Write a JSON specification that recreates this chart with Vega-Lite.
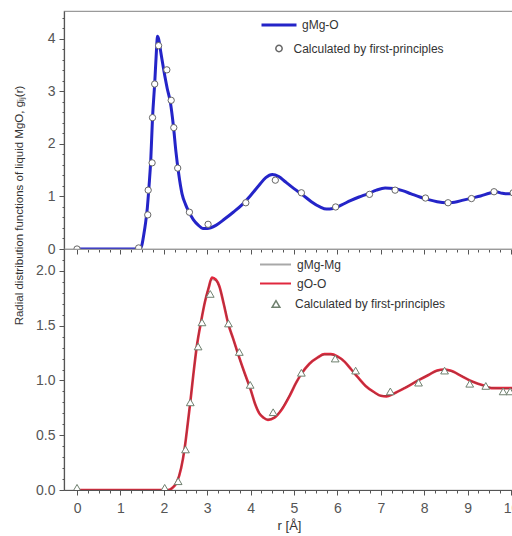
{
  "$schema": "https://vega.github.io/schema/vega-lite/v6.json",
  "padding": {"left": 12, "top": 10, "right": 0, "bottom": 0},
  "config": {
    "font": "Liberation Sans",
    "view": {"stroke": "#9a9a9a", "strokeWidth": 1.2},
    "axis": {"domainColor": "#555", "tickColor": "#555", "labelColor": "#555", "labelFont": "Liberation Sans", "labelFontSize": 14, "grid": false, "titleFont": "Liberation Sans", "titleFontWeight": "normal", "titleColor": "#333", "domainWidth": 1.2, "tickWidth": 1, "labelOverlap": false},
    "legend": {"padding": 0, "labelFont": "Liberation Sans", "labelFontSize": 12, "labelColor": "#333", "title": null}
  },
  "datasets": {
    "mgo_line": [
      {"r": 0, "g": 0}, {"r": 1.0, "g": 0}, {"r": 1.44, "g": 0}, {"r": 1.49, "g": 0.06}, {"r": 1.54, "g": 0.28},
      {"r": 1.58, "g": 0.5}, {"r": 1.62, "g": 0.78}, {"r": 1.66, "g": 1.2}, {"r": 1.70, "g": 1.7}, {"r": 1.74, "g": 2.5},
      {"r": 1.79, "g": 3.15}, {"r": 1.83, "g": 3.77}, {"r": 1.855, "g": 4.05}, {"r": 1.88, "g": 4.0}, {"r": 1.93, "g": 3.75},
      {"r": 2.0, "g": 3.4}, {"r": 2.08, "g": 3.05}, {"r": 2.15, "g": 2.8}, {"r": 2.22, "g": 2.35}, {"r": 2.28, "g": 1.85},
      {"r": 2.34, "g": 1.45}, {"r": 2.42, "g": 1.05}, {"r": 2.5, "g": 0.85}, {"r": 2.57, "g": 0.72}, {"r": 2.68, "g": 0.56},
      {"r": 2.8, "g": 0.45}, {"r": 2.9, "g": 0.39}, {"r": 3.0, "g": 0.39}, {"r": 3.2, "g": 0.45}, {"r": 3.4, "g": 0.57},
      {"r": 3.6, "g": 0.70}, {"r": 3.8, "g": 0.84}, {"r": 4.0, "g": 1.02}, {"r": 4.2, "g": 1.22}, {"r": 4.35, "g": 1.36},
      {"r": 4.5, "g": 1.42}, {"r": 4.65, "g": 1.38}, {"r": 4.8, "g": 1.28}, {"r": 5.0, "g": 1.15}, {"r": 5.2, "g": 1.03},
      {"r": 5.4, "g": 0.9}, {"r": 5.6, "g": 0.8}, {"r": 5.75, "g": 0.76}, {"r": 5.9, "g": 0.77}, {"r": 6.1, "g": 0.84},
      {"r": 6.3, "g": 0.92}, {"r": 6.5, "g": 0.99}, {"r": 6.7, "g": 1.05}, {"r": 6.9, "g": 1.12}, {"r": 7.1, "g": 1.16},
      {"r": 7.3, "g": 1.15}, {"r": 7.5, "g": 1.11}, {"r": 7.7, "g": 1.05}, {"r": 7.9, "g": 0.99}, {"r": 8.1, "g": 0.94},
      {"r": 8.3, "g": 0.9}, {"r": 8.5, "g": 0.88}, {"r": 8.7, "g": 0.89}, {"r": 8.9, "g": 0.93}, {"r": 9.1, "g": 0.97},
      {"r": 9.3, "g": 1.01}, {"r": 9.5, "g": 1.06}, {"r": 9.65, "g": 1.09}, {"r": 9.8, "g": 1.06}, {"r": 9.95, "g": 1.05},
      {"r": 10.07, "g": 1.07}
    ],
    "mgo_pts": [
      {"r": 0, "g": 0}, {"r": 1.42, "g": 0.02}, {"r": 1.63, "g": 0.65}, {"r": 1.64, "g": 1.12}, {"r": 1.73, "g": 1.64},
      {"r": 1.74, "g": 2.5}, {"r": 1.79, "g": 3.14}, {"r": 1.88, "g": 3.87}, {"r": 2.07, "g": 3.41}, {"r": 2.17, "g": 2.83},
      {"r": 2.23, "g": 2.31}, {"r": 2.32, "g": 1.54}, {"r": 2.59, "g": 0.70}, {"r": 3.02, "g": 0.47}, {"r": 3.89, "g": 0.88},
      {"r": 4.57, "g": 1.31}, {"r": 5.17, "g": 1.07}, {"r": 5.96, "g": 0.80}, {"r": 6.74, "g": 1.04}, {"r": 7.33, "g": 1.12},
      {"r": 8.03, "g": 0.97}, {"r": 8.55, "g": 0.88}, {"r": 9.09, "g": 0.96}, {"r": 9.61, "g": 1.09}, {"r": 10.05, "g": 1.07}
    ],
    "oo_line": [
      {"r": 0, "g": 0}, {"r": 2.0, "g": 0}, {"r": 2.1, "g": 0}, {"r": 2.2, "g": 0.02}, {"r": 2.3, "g": 0.07},
      {"r": 2.4, "g": 0.2}, {"r": 2.48, "g": 0.38}, {"r": 2.55, "g": 0.6}, {"r": 2.61, "g": 0.8}, {"r": 2.68, "g": 1.05},
      {"r": 2.76, "g": 1.31}, {"r": 2.86, "g": 1.54}, {"r": 2.95, "g": 1.72}, {"r": 3.03, "g": 1.84}, {"r": 3.11, "g": 1.94},
      {"r": 3.2, "g": 1.92}, {"r": 3.28, "g": 1.86}, {"r": 3.38, "g": 1.7}, {"r": 3.49, "g": 1.51}, {"r": 3.6, "g": 1.38},
      {"r": 3.73, "g": 1.22}, {"r": 3.86, "g": 1.07}, {"r": 3.99, "g": 0.93}, {"r": 4.1, "g": 0.79}, {"r": 4.2, "g": 0.70},
      {"r": 4.3, "g": 0.66}, {"r": 4.4, "g": 0.64}, {"r": 4.55, "g": 0.66}, {"r": 4.71, "g": 0.73}, {"r": 4.9, "g": 0.86},
      {"r": 5.05, "g": 0.98}, {"r": 5.17, "g": 1.06}, {"r": 5.35, "g": 1.15}, {"r": 5.55, "g": 1.21}, {"r": 5.7, "g": 1.24},
      {"r": 5.85, "g": 1.24}, {"r": 6.0, "g": 1.22}, {"r": 6.17, "g": 1.17}, {"r": 6.32, "g": 1.10}, {"r": 6.47, "g": 1.03},
      {"r": 6.65, "g": 0.95}, {"r": 6.86, "g": 0.89}, {"r": 7.0, "g": 0.86}, {"r": 7.13, "g": 0.855}, {"r": 7.3, "g": 0.88},
      {"r": 7.55, "g": 0.93}, {"r": 7.86, "g": 1.0}, {"r": 8.1, "g": 1.05}, {"r": 8.3, "g": 1.09}, {"r": 8.45, "g": 1.10},
      {"r": 8.6, "g": 1.09}, {"r": 8.86, "g": 1.04}, {"r": 9.05, "g": 1.0}, {"r": 9.24, "g": 0.97}, {"r": 9.4, "g": 0.95},
      {"r": 9.55, "g": 0.93}, {"r": 9.8, "g": 0.93}, {"r": 10.07, "g": 0.93}
    ],
    "mgmg_line": [
      {"r": 0, "g": 0}, {"r": 2.0, "g": 0}, {"r": 2.1, "g": 0}, {"r": 2.2, "g": 0.02}, {"r": 2.3, "g": 0.08},
      {"r": 2.4, "g": 0.21}, {"r": 2.48, "g": 0.39}, {"r": 2.55, "g": 0.61}, {"r": 2.61, "g": 0.81}, {"r": 2.68, "g": 1.06},
      {"r": 2.76, "g": 1.32}, {"r": 2.86, "g": 1.55}, {"r": 2.95, "g": 1.73}, {"r": 3.03, "g": 1.85}, {"r": 3.11, "g": 1.92},
      {"r": 3.2, "g": 1.91}, {"r": 3.28, "g": 1.85}, {"r": 3.38, "g": 1.71}, {"r": 3.49, "g": 1.52}, {"r": 3.6, "g": 1.37},
      {"r": 3.73, "g": 1.21}, {"r": 3.86, "g": 1.06}, {"r": 3.99, "g": 0.92}, {"r": 4.1, "g": 0.79}, {"r": 4.2, "g": 0.71},
      {"r": 4.3, "g": 0.66}, {"r": 4.4, "g": 0.645}, {"r": 4.55, "g": 0.665}, {"r": 4.71, "g": 0.74}, {"r": 4.9, "g": 0.87},
      {"r": 5.05, "g": 0.98}, {"r": 5.17, "g": 1.06}, {"r": 5.35, "g": 1.15}, {"r": 5.55, "g": 1.21}, {"r": 5.7, "g": 1.235},
      {"r": 5.85, "g": 1.235}, {"r": 6.0, "g": 1.215}, {"r": 6.17, "g": 1.17}, {"r": 6.32, "g": 1.10}, {"r": 6.47, "g": 1.025},
      {"r": 6.65, "g": 0.95}, {"r": 6.86, "g": 0.885}, {"r": 7.0, "g": 0.86}, {"r": 7.13, "g": 0.86}, {"r": 7.3, "g": 0.88},
      {"r": 7.55, "g": 0.935}, {"r": 7.86, "g": 1.0}, {"r": 8.1, "g": 1.055}, {"r": 8.3, "g": 1.085}, {"r": 8.45, "g": 1.095},
      {"r": 8.6, "g": 1.085}, {"r": 8.86, "g": 1.045}, {"r": 9.05, "g": 1.0}, {"r": 9.24, "g": 0.97}, {"r": 9.4, "g": 0.945},
      {"r": 9.55, "g": 0.935}, {"r": 9.8, "g": 0.925}, {"r": 10.07, "g": 0.93}
    ],
    "oo_pts": [
      {"r": 0.0, "g": 0.02}, {"r": 2.02, "g": 0.02}, {"r": 2.33, "g": 0.08}, {"r": 2.50, "g": 0.37}, {"r": 2.61, "g": 0.80},
      {"r": 2.79, "g": 1.31}, {"r": 2.88, "g": 1.53}, {"r": 3.07, "g": 1.79}, {"r": 3.49, "g": 1.52}, {"r": 3.74, "g": 1.26},
      {"r": 3.99, "g": 0.96}, {"r": 4.52, "g": 0.71}, {"r": 5.17, "g": 1.07}, {"r": 5.95, "g": 1.20}, {"r": 6.42, "g": 1.09},
      {"r": 7.22, "g": 0.90}, {"r": 7.87, "g": 0.98}, {"r": 8.47, "g": 1.09}, {"r": 9.05, "g": 0.97}, {"r": 9.42, "g": 0.95},
      {"r": 9.82, "g": 0.90}, {"r": 9.98, "g": 0.90}
    ]
  },
  "spacing": 0,
  "bounds": "flush",
  "resolve": {"scale": {"color": "independent", "shape": "independent", "y": "independent"}, "legend": {"color": "independent", "shape": "independent"}},
  "vconcat": [
    {
      "width": 450,
      "height": 238,
      "encoding": {
        "x": {"field": "r", "type": "quantitative", "scale": {"domain": [-0.3, 10.07], "nice": false, "zero": false},
          "axis": {"title": null, "labels": false, "values": [0,0.25,0.5,0.75,1,1.25,1.5,1.75,2,2.25,2.5,2.75,3,3.25,3.5,3.75,4,4.25,4.5,4.75,5,5.25,5.5,5.75,6,6.25,6.5,6.75,7,7.25,7.5,7.75,8,8.25,8.5,8.75,9,9.25,9.5,9.75,10],
            "tickSize": {"condition": {"test": "datum.value % 1 !== 0", "value": 3}, "value": 5}}},
        "y": {"field": "g", "type": "quantitative", "scale": {"domain": [0, 4.53], "nice": false},
          "axis": {"values": [0, 0.2, 0.4, 0.6, 0.8, 1, 1.2, 1.4, 1.6, 1.8, 2, 2.2, 2.4, 2.6, 2.8, 3, 3.2, 3.4, 3.6, 3.8, 4, 4.2, 4.4],
            "labelExpr": "abs(datum.value - round(datum.value)) < 1e-6 ? format(datum.value, 'd') : ''",
            "tickSize": {"condition": {"test": "abs(datum.value - round(datum.value)) < 1e-6", "value": 5}, "value": 2},
            "labelPadding": 4,
            "title": "Radial distribution functions of liquid MgO, gᵢⱼ(r)", "titleFontSize": 11.5, "titleX": -40, "titleY": 194}}
      },
      "layer": [
        {
          "data": {"name": "mgo_line"},
          "mark": {"type": "line", "strokeWidth": 3, "interpolate": "monotone", "clip": true},
          "encoding": {
            "color": {"datum": "gMg-O", "type": "nominal", "scale": {"range": ["#2424c8"]},
              "legend": {"orient": "none", "legendX": 196, "legendY": 7, "symbolType": "stroke", "symbolSize": 1225, "symbolStrokeWidth": 3, "clipHeight": 14, "labelOffset": 4}}
          }
        },
        {
          "data": {"name": "mgo_pts"},
          "mark": {"type": "point", "size": 40, "fill": "white", "stroke": "#666", "strokeWidth": 1, "opacity": 1, "filled": true, "clip": true},
          "encoding": {
            "shape": {"datum": "Calculated by first-principles", "type": "nominal", "scale": {"range": ["circle"]},
              "legend": {"orient": "none", "legendX": 209, "legendY": 30.5, "symbolSize": 40, "clipHeight": 14, "labelOffset": 8.5,
                "encode": {"symbols": {"update": {"fill": {"value": "white"}, "stroke": {"value": "#666"}, "strokeWidth": {"value": 1}, "opacity": {"value": 1}}}}}}
          }
        }
      ]
    },
    {
      "width": 450,
      "height": 241,
      "encoding": {
        "x": {"field": "r", "type": "quantitative", "scale": {"domain": [-0.3, 10.07], "nice": false, "zero": false},
          "axis": {"title": "r [Å]", "titleFontSize": 13, "titlePadding": 4, "labelPadding": 6,
            "values": [0,0.25,0.5,0.75,1,1.25,1.5,1.75,2,2.25,2.5,2.75,3,3.25,3.5,3.75,4,4.25,4.5,4.75,5,5.25,5.5,5.75,6,6.25,6.5,6.75,7,7.25,7.5,7.75,8,8.25,8.5,8.75,9,9.25,9.5,9.75,10],
            "labelExpr": "datum.value % 1 === 0 ? format(datum.value, 'd') : ''",
            "tickSize": {"condition": {"test": "datum.value % 1 !== 0", "value": 3}, "value": 5}}},
        "y": {"field": "g", "type": "quantitative", "scale": {"domain": [0, 2.2], "nice": false},
          "axis": {"values": [0, 0.1, 0.2, 0.3, 0.4, 0.5, 0.6, 0.7, 0.8, 0.9, 1.0, 1.1, 1.2, 1.3, 1.4, 1.5, 1.6, 1.7, 1.8, 1.9, 2.0, 2.1, 2.2],
            "labelExpr": "abs(datum.value * 2 - round(datum.value * 2)) < 1e-6 ? format(datum.value, '.1f') : ''",
            "tickSize": {"condition": {"test": "abs(datum.value * 2 - round(datum.value * 2)) < 1e-6", "value": 5}, "value": 2},
            "labelPadding": 4, "title": null}}
      },
      "layer": [
        {
          "data": {"name": "oo_line"},
          "mark": {"type": "line", "strokeWidth": 2.6, "interpolate": "monotone", "clip": true},
          "encoding": {
            "color": {"datum": "gO-O", "type": "nominal", "scale": {"domain": ["gMg-Mg", "gO-O"], "range": ["#a8a8a8", "#e0283e"]},
              "legend": {"orient": "none", "legendX": 195, "legendY": 7, "symbolType": "stroke", "symbolSize": 961, "symbolStrokeWidth": 2, "clipHeight": 17, "rowPadding": 2, "labelOffset": 5}}
          }
        },
        {
          "data": {"name": "mgmg_line"},
          "mark": {"type": "line", "strokeWidth": 0.6, "interpolate": "monotone", "clip": true, "stroke": "#7a3c3c"},
          "encoding": {
            "color": {"datum": "gMg-Mg", "type": "nominal"}
          }
        },
        {
          "data": {"name": "oo_pts"},
          "mark": {"type": "point", "size": 60, "fill": "white", "stroke": "#6f806f", "strokeWidth": 1, "opacity": 1, "filled": true, "clip": true},
          "encoding": {
            "shape": {"datum": "Calculated by first-principles", "type": "nominal", "scale": {"range": ["triangle-up"]},
              "legend": {"orient": "none", "legendX": 206, "legendY": 48, "symbolSize": 60, "clipHeight": 14, "labelOffset": 13,
                "encode": {"symbols": {"update": {"fill": {"value": "white"}, "stroke": {"value": "#6f806f"}, "strokeWidth": {"value": 1}, "opacity": {"value": 1}}}}}}
          }
        }
      ]
    }
  ]
}
